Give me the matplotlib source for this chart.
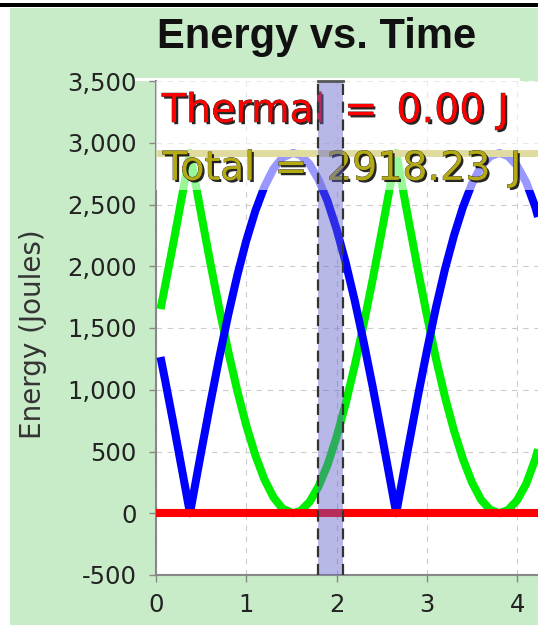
import matplotlib
matplotlib.use("Agg")
import matplotlib.pyplot as plt
import matplotlib.patheffects as pe
from matplotlib.patches import Rectangle
from matplotlib.ticker import FuncFormatter

# ---- data ----
time = [0.05, 0.1, 0.2, 0.3, 0.376, 0.4, 0.5, 0.6, 0.7, 0.8, 0.9, 1.0, 1.1, 1.2, 1.3, 1.4,
        1.518, 1.6, 1.7, 1.8, 1.9, 2.0, 2.1, 2.2, 2.3, 2.4, 2.5, 2.6, 2.66, 2.7, 2.8, 2.9,
        3.0, 3.1, 3.2, 3.3, 3.4, 3.5, 3.6, 3.7, 3.802, 3.9, 4.0, 4.1, 4.2, 4.23]
kinetic = [1265, 1081, 700, 304, 0, 96, 495, 885, 1258, 1607, 1926, 2208, 2448, 2643, 2788, 2880,
           2918, 2899, 2827, 2701, 2526, 2299, 2031, 1724, 1386, 1022, 635, 240, 0, 161, 558, 947,
           1316, 1666, 1977, 2249, 2481, 2670, 2809, 2889, 2918, 2891, 2812, 2679, 2480, 2400]
potential = [1653, 1837, 2218, 2614, 2918, 2822, 2423, 2033, 1660, 1311, 992, 710, 470, 275, 130, 38,
             0, 19, 91, 217, 392, 619, 887, 1194, 1532, 1896, 2283, 2678, 2918, 2757, 2360, 1971,
             1602, 1252, 941, 669, 437, 248, 109, 29, 0, 27, 106, 239, 438, 518]
thermal_energy = 0.00
total_energy = 2918.23
time_range = [0.0, 4.23]
cursor_span = [1.79, 2.066]
x_ticks = [0, 1, 2, 3, 4]
y_ticks = [-500, 0, 500, 1000, 1500, 2000, 2500, 3000, 3500]
title = "Energy vs. Time"
y_label = "Energy (Joules)"

W, H = 538, 625
fig = plt.figure(figsize=(W / 100, H / 100), dpi=100)
fig.patch.set_facecolor("white")
GREEN_BG = "#c8ecc8"
fig.add_artist(Rectangle((10 / W, 0), 1, 1 - 8 / H, transform=fig.transFigure,
                         facecolor=GREEN_BG, edgecolor="none", zorder=-10))
fig.add_artist(Rectangle((0, 1 - 7 / H), 1, 4 / H, transform=fig.transFigure,
                         facecolor="black", edgecolor="none", zorder=-9))
fig.add_artist(Rectangle((133 / W, 1 - 81 / H), (520 - 133) / W, 3 / H, transform=fig.transFigure,
                         facecolor="white", edgecolor="none", zorder=-8))

left, right, top, bottom = 156, 538, 81, 575
ax = fig.add_axes([left / W, 1 - bottom / H, (right - left) / W, (bottom - top) / H])
ax.set_facecolor("white")
ax.set_xlim(time_range)
ax.set_ylim(y_ticks[0], y_ticks[-1])

ax.grid(True, color="#cccccc", linestyle=(0, (5, 5)), linewidth=0.8)
ax.set_axisbelow(True)

ax.plot(time, potential, color="#00ee00", lw=5.8, solid_capstyle="butt", zorder=3)
ax.plot(time, kinetic, color="#0000ff", lw=5.8, solid_capstyle="butt", zorder=3.1)
ax.plot(time_range, [thermal_energy, thermal_energy], color="#ff0000", lw=5.8,
        solid_capstyle="butt", zorder=4)
ax.plot(time_range, [total_energy, total_energy], color="#b4aa14", lw=5.0,
        solid_capstyle="butt", zorder=4)

# translucent label background
ax.axhspan(2618, y_ticks[-1], facecolor="white", alpha=0.6, edgecolor="none", zorder=5)

fx = dict(fontsize=28.5, family="DejaVu Sans", zorder=6)
eff = [pe.SimplePatchShadow(offset=(1.6, -1.6), shadow_rgbFace="black", alpha=0.85),
       pe.Stroke(linewidth=0.5, foreground="#222222"), pe.Normal()]
sp = " \u2006"
ax.text(0.066, 3168, f"Thermal{sp}={sp}{thermal_energy:.2f} J", color="#ff0000",
        va="baseline", ha="left", path_effects=eff, **fx)
ax.text(0.076, 2700, f"Total{sp}={sp}{total_energy:.2f}{sp}J", color="#b4aa14",
        va="baseline", ha="left", path_effects=eff, **fx)

# cursor band
ax.axvspan(cursor_span[0], cursor_span[1], facecolor=(0.39, 0.39, 0.80), alpha=0.45,
           edgecolor="none", zorder=10)
for xv in cursor_span:
    ax.axvline(xv, color="#333333", lw=1.6, linestyle=(0, (5, 3)), zorder=11)
ax.plot(cursor_span, [y_ticks[-1], y_ticks[-1]], color="#555555", lw=2, zorder=11, clip_on=False)

ax.set_xticks(x_ticks)
ax.set_yticks(y_ticks)
ax.yaxis.set_major_formatter(FuncFormatter(lambda v, p: f"{v:,.0f}"))
ax.tick_params(axis="both", direction="out", length=5, width=1, color="#888888",
               labelsize=17.5, labelcolor="#222222")
ax.tick_params(axis="y", pad=9)
ax.tick_params(axis="x", pad=8)
for lab in ax.get_xticklabels() + ax.get_yticklabels():
    lab.set_family("DejaVu Sans")
for s in ["top", "right"]:
    ax.spines[s].set_visible(False)
for s in ["left", "bottom"]:
    ax.spines[s].set_color("#888888")
    ax.spines[s].set_linewidth(1.5)

fig.text(157 / W, 1 - 48 / H, title, ha="left", va="baseline", fontsize=30,
         fontweight="bold", family="Liberation Sans", color="#111111")
fig.text(33 / W, 1 - 334 / H, y_label, ha="center", va="center", rotation=90,
         fontsize=20, family="DejaVu Sans", color="#333333")

fig.savefig("out.png", dpi=100, facecolor=fig.get_facecolor())
